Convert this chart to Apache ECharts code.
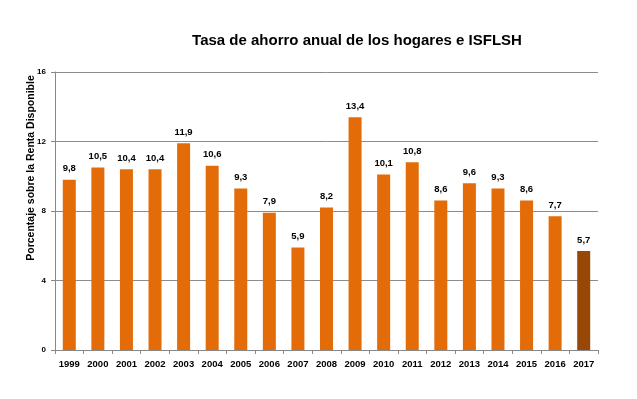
<!DOCTYPE html>
<html><head><meta charset="utf-8">
<script src="https://cdn.jsdelivr.net/npm/echarts@6/dist/echarts.min.js"></script>
<style>html,body{margin:0;padding:0;background:#fff}#c{width:637px;height:399px}</style>
</head><body><div id="c"></div>
<script>
const years = ['1999','2000','2001','2002','2003','2004','2005','2006','2007','2008','2009','2010','2011','2012','2013','2014','2015','2016','2017'];
const values = [9.8,10.5,10.4,10.4,11.9,10.6,9.3,7.9,5.9,8.2,13.4,10.1,10.8,8.6,9.6,9.3,8.6,7.7,5.7];
const yTicks = [0,4,8,12,16];
const highlightYear = '2017';

const chart = echarts.init(document.getElementById('c'), null, {renderer:'canvas'});
const font = 'Liberation Sans, Arial, sans-serif';
chart.setOption({
  animation:false,
  backgroundColor:'#fff',
  title:{text:'Tasa de ahorro anual de los hogares e ISFLSH', left:352, top:28, textAlign:'center',
    textStyle:{fontFamily:font, fontSize:15, fontWeight:'bold', color:'#000'}},
  grid:{left:55, right:39, top:72, bottom:49},
  xAxis:{type:'category', data:years,
    axisLine:{lineStyle:{color:'#888', width:1}},
    axisTick:{show:true, alignWithLabel:false, length:4, lineStyle:{color:'#888'}},
    axisLabel:{fontFamily:font, fontSize:9.5, fontWeight:'bold', color:'#000', margin:9, interval:0}},
  yAxis:{type:'value', min:yTicks[0], max:yTicks[yTicks.length-1], interval:4,
    name:'Porcentaje sobre la Renta Disponible', nameLocation:'middle', nameGap:18, nameMoveOverlap:false,
    nameTextStyle:{fontFamily:font, fontSize:10.5, fontWeight:'bold', color:'#000', padding:[0,0,0,86]},
    axisLine:{show:true, lineStyle:{color:'#888'}},
    axisTick:{show:true, inside:false, length:4, lineStyle:{color:'#888'}},
    axisLabel:{fontFamily:font, fontSize:8, fontWeight:'bold', color:'#000', margin:9},
    splitLine:{lineStyle:{color:'#8c8c8c', width:1}}},
  series:[{type:'bar', barWidth:13,
    data:values.map((v,i)=>({value:v, itemStyle:{color: years[i]===highlightYear ? '#974806' : '#E36C09'}})),
    label:{show:true, position:'top', distance:6, fontFamily:font, fontSize:9.5, fontWeight:'bold', color:'#000',
      formatter:p=>String(p.value.toFixed(1)).replace('.',',')}}]
});
</script></body></html>
